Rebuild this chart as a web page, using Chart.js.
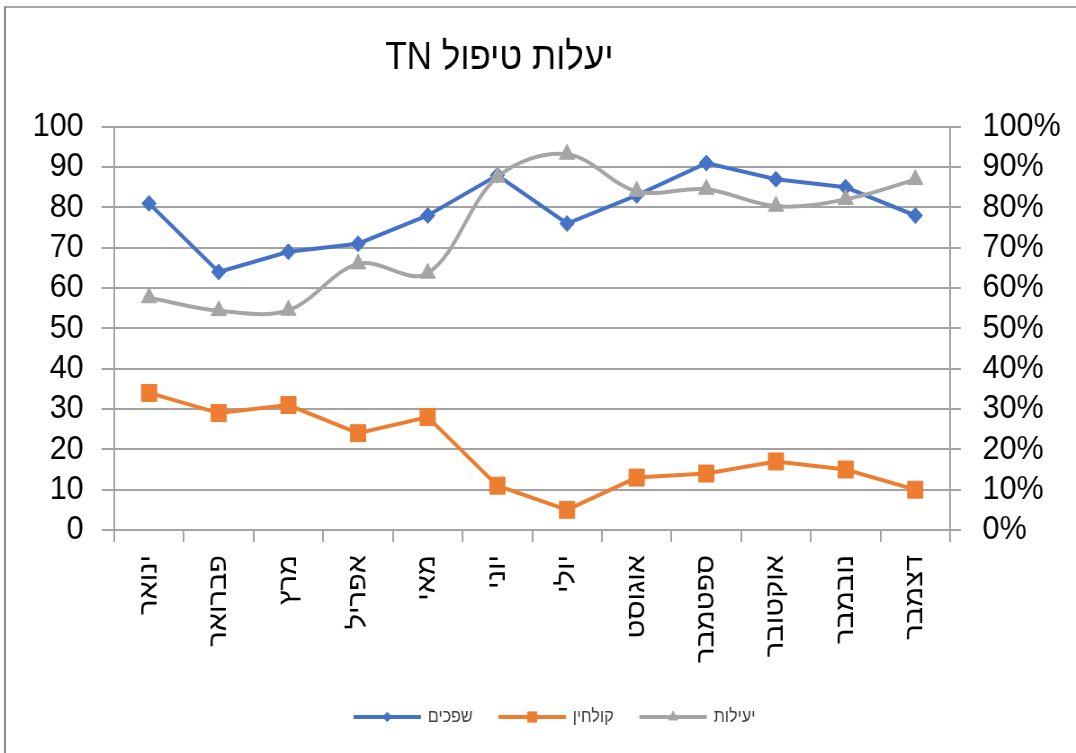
<!DOCTYPE html>
<html lang="he">
<head>
<meta charset="utf-8">
<script src="https://cdn.jsdelivr.net/npm/chart.js@4.4.1/dist/chart.umd.min.js"></script>
<style>
  html, body { margin: 0; padding: 0; background: #fff; overflow: hidden; }
  #frame { position: absolute; left: 4px; top: 6px; width: 1200px; height: 800px;
           border-top: 2px solid #a6a6a6; border-left: 2px solid #8c8c8c; }
  /* the original picture is squeezed horizontally, so draw wider and scale it back */
  #wrap { position: absolute; left: 0; top: 0; width: 1196px; height: 753px;
          transform: scaleX(0.8997); transform-origin: 0 0; }
</style>
</head>
<body>
<div id="frame"></div>
<div id="wrap"><canvas id="chart" width="1196" height="753" dir="rtl"></canvas></div>
<script>
const chartTitle = "יעלות טיפול TN";
const months = ["ינואר", "פברואר", "מרץ", "אפריל", "מאי", "יוני", "יולי", "אוגוסט", "ספטמבר", "אוקטובר", "נובמבר", "דצמבר"];
const seriesNames = ["שפכים", "קולחין", "יעילות"];
const shfachim = [81, 64, 69, 71, 78, 88, 76, 83, 91, 87, 85, 78];
const kolchin = [34, 29, 31, 24, 28, 11, 5, 13, 14, 17, 15, 10];
const yeilut = [0.576, 0.544, 0.545, 0.66, 0.637, 0.875, 0.932, 0.84, 0.845, 0.803, 0.82, 0.869];

const BLUE = "#4472C4";
const ORANGE = "#ED7D31";
const GRAY = "#A5A5A5";
const GRID = "#a3a3a3";
const FONT = "'Liberation Sans', Arial, sans-serif";

// shifts for title and legend, the original is not centred on the canvas
const TITLE_SHIFT = -43;
const LEGEND_SHIFT = 19;

const shiftBoxes = {
  id: "shiftBoxes",
  afterLayout(chart) {
    chart.titleBlock.left += TITLE_SHIFT;
    chart.titleBlock.right += TITLE_SHIFT;
    chart.legend.left += LEGEND_SHIFT;
    chart.legend.right += LEGEND_SHIFT;
  },
};

// put the marker in the middle of each legend line
const legendMarkers = {
  id: "legendMarkers",
  afterDraw(chart) {
    const legend = chart.legend;
    const ctx = chart.ctx;
    const boxWidth = legend.options.labels.boxWidth;
    legend.legendItems.forEach((item, i) => {
      const box = legend.legendHitBoxes[i];
      const ds = chart.data.datasets[item.datasetIndex];
      ctx.save();
      ctx.fillStyle = ds.pointBackgroundColor;
      ctx.strokeStyle = ds.pointBorderColor;
      ctx.lineWidth = 1;
      Chart.helpers.drawPoint(ctx, {
        pointStyle: ds.pointStyle,
        radius: ds.pointRadius * 0.6,
        borderWidth: 1,
        rotation: 0,
      }, box.left + boxWidth / 2, box.top + box.height / 2);
      ctx.restore();
    });
  },
};

new Chart(document.getElementById("chart"), {
  type: "line",
  data: {
    labels: months,
    datasets: [
      {
        label: seriesNames[0], data: shfachim, yAxisID: "y", order: 3,
        borderColor: BLUE, backgroundColor: BLUE, borderWidth: 4,
        pointStyle: "rectRot", pointRadius: 8, pointBackgroundColor: BLUE, pointBorderColor: BLUE, pointBorderWidth: 1,
        tension: 0,
      },
      {
        label: seriesNames[1], data: kolchin, yAxisID: "y", order: 2,
        borderColor: ORANGE, backgroundColor: ORANGE, borderWidth: 4,
        pointStyle: "rect", pointRadius: 12, pointBackgroundColor: ORANGE, pointBorderColor: ORANGE, pointBorderWidth: 1,
        tension: 0,
      },
      {
        label: seriesNames[2], data: yeilut, yAxisID: "y1", order: 1,
        borderColor: GRAY, backgroundColor: GRAY, borderWidth: 4,
        pointStyle: "triangle", pointRadius: 10, pointBackgroundColor: GRAY, pointBorderColor: GRAY, pointBorderWidth: 1,
        tension: 0.35,
      },
    ],
  },
  options: {
    responsive: false,
    animation: false,
    layout: { padding: { left: 0, right: 0, top: 0, bottom: 17 } },
    plugins: {
      title: {
        display: true,
        text: chartTitle,
        color: "#000",
        font: { family: FONT, size: 39, weight: "normal" },
        padding: { top: 35, bottom: 45 },
      },
      legend: {
        position: "bottom",
        labels: {
          color: "#404040",
          font: { family: FONT, size: 18 },
          boxWidth: 72,
          boxHeight: 1,
          padding: 30,
          sort: (a, b) => a.datasetIndex - b.datasetIndex,
          generateLabels(chart) {
            return Chart.defaults.plugins.legend.labels.generateLabels(chart)
              .map((l) => ({ ...l, lineWidth: 3 }));
          },
        },
      },
      tooltip: { enabled: false },
    },
    scales: {
      x: {
        offset: true,
        grid: { offset: true, drawOnChartArea: false, color: GRID, lineWidth: 2, tickLength: 12 },
        border: { display: true, color: GRID, width: 2 },
        ticks: {
          autoSkip: false, minRotation: 90, maxRotation: 90, padding: 13,
          color: "#000", font: { family: FONT, size: 29 },
        },
        afterFit(scale) { scale.height = 148; },
      },
      y: {
        position: "left",
        min: 0, max: 100,
        grid: { color: GRID, lineWidth: 2, tickLength: 14 },
        border: { display: true, color: GRID, width: 2 },
        ticks: { stepSize: 10, autoSkip: false, padding: 20, color: "#000", font: { family: FONT, size: 34 } },
        afterFit(scale) { scale.width = 127; },
      },
      y1: {
        position: "right",
        min: 0, max: 1,
        grid: { drawOnChartArea: false, color: GRID, lineWidth: 2, tickLength: 12 },
        border: { display: true, color: GRID, width: 2 },
        ticks: {
          stepSize: 0.1, autoSkip: false, padding: 24, color: "#000", font: { family: FONT, size: 34 },
          callback: (v) => Math.round(v * 100) + "%",
        },
        afterFit(scale) { scale.width = 140; },
      },
    },
  },
  plugins: [shiftBoxes, legendMarkers],
});
</script>
</body>
</html>
